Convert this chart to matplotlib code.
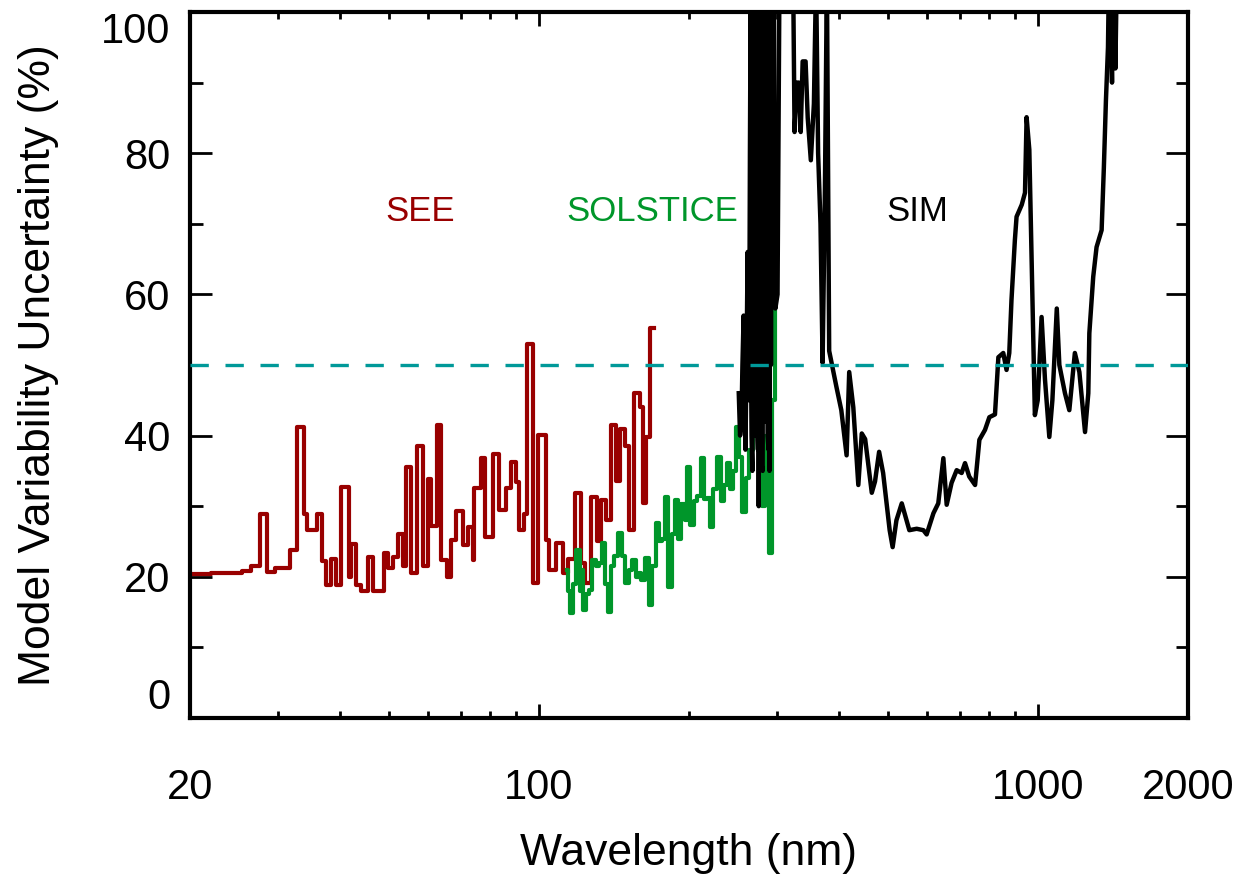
import numpy as np
import matplotlib.pyplot as plt
from matplotlib.ticker import FixedLocator, NullFormatter

plt.rcParams['font.family'] = ['Liberation Sans', 'DejaVu Sans']

# SEE (step bins: left edge wavelength in nm, uncertainty in %)
see_wl = [20.0, 22.0, 24.5, 25.4, 26.5, 27.6, 28.6, 29.6, 31.7, 32.7,
          33.8, 34.4, 35.9, 36.8, 37.5, 38.4, 39.3, 40.2, 41.7, 42.0,
          43.1, 44.0, 45.4, 46.5, 48.9, 49.9, 51.0, 52.2, 53.4, 54.2,
          55.4, 56.9, 58.6, 60.0, 60.9, 62.5, 63.7, 65.4, 66.6, 68.2,
          70.4, 72.0, 73.7, 74.3, 76.6, 78.0, 80.8, 83.3, 86.0, 87.9,
          89.9, 91.4, 93.4, 94.9, 97.2, 99.6, 103.5, 105.0, 108.5, 112.0,
          114.5, 118.1, 121.3, 124.0, 127.0, 131.0, 133.0, 136.3, 139.6, 143.0,
          145.4, 149.0, 151.5, 155.3, 159.2, 162.0, 164.0, 167.3, 170.0]
see_val = [20.4, 20.5, 20.6, 20.8, 21.5, 28.9, 20.7, 21.2, 23.8, 41.2,
           28.9, 26.6, 28.9, 22.2, 18.8, 22.5, 18.8, 32.7, 20.0, 24.6,
           18.8, 18.0, 22.8, 18.0, 23.4, 21.2, 22.8, 26.0, 21.5, 35.6,
           20.5, 38.5, 21.5, 33.9, 27.2, 41.5, 22.4, 20.0, 25.2, 29.3,
           24.5, 27.0, 22.4, 32.6, 36.8, 25.6, 37.4, 29.5, 32.6, 36.3,
           33.4, 26.6, 28.9, 53.0, 19.1, 40.1, 25.2, 21.0, 24.8, 20.5,
           22.5, 31.9, 22.0, 19.1, 31.3, 25.0, 30.9, 28.0, 41.5, 33.5,
           41.0, 38.5, 26.6, 46.0, 44.0, 30.4, 39.8, 55.2, 55.2]

# SOLSTICE
sol_wl = [113.9, 115.2, 116.0, 118.0, 120.0, 121.5, 122.5, 123.3, 125.2, 127.0,
          129.0, 131.0, 133.0, 135.0, 137.0, 138.5, 140.6, 143.0, 145.4, 147.8,
          150.3, 152.7, 155.3, 158.0, 159.2, 162.0, 164.6, 167.3, 170.0, 173.0,
          175.9, 177.4, 180.4, 183.5, 186.6, 188.2, 191.3, 194.5, 197.8, 199.4,
          202.7, 206.0, 209.5, 213.0, 216.6, 218.4, 222.0, 225.7, 229.5, 233.3,
          237.2, 239.3, 243.2, 247.2, 249.4, 253.6, 257.9, 262.0, 266.6, 271.0,
          275.6, 278.0, 282.4, 287.0, 292.0, 296.0, 298.0]
sol_val = [21.0, 18.0, 14.9, 19.0, 23.8, 18.0, 21.0, 15.3, 17.5, 18.1,
           22.4, 21.5, 22.0, 24.8, 19.0, 15.0, 21.5, 23.0, 26.2, 23.0,
           19.1, 21.0, 22.4, 20.0, 20.5, 19.5, 22.6, 16.0, 21.5, 27.6,
           25.0, 25.3, 31.3, 18.6, 26.0, 30.9, 25.3, 30.3, 28.0, 35.6,
           27.4, 30.8, 31.5, 36.8, 31.0, 31.2, 27.0, 32.5, 37.0, 30.8,
           33.0, 36.1, 32.5, 35.0, 41.2, 37.0, 29.2, 34.0, 38.0, 42.0,
           40.5, 47.0, 30.0, 40.0, 23.4, 45.0, 80.0]

# SIM
sim_wl = [251.7, 253.2, 254.8, 256.0, 257.4, 258.5, 259.6, 261.0, 262.2, 263.1,
          264.0, 265.0, 266.0, 266.5, 267.0, 268.0, 269.0, 269.5, 270.0, 271.0,
          272.0, 272.5, 273.0, 274.0, 275.0, 275.5, 276.0, 277.0, 278.0, 278.7,
          279.5, 281.0, 282.0, 282.5, 283.0, 284.0, 285.0, 285.6, 286.2, 287.5,
          288.8, 289.4, 290.0, 291.0, 292.0, 293.0, 294.0, 295.0, 296.0, 297.0,
          298.0, 301.0, 304.0, 307.0, 312.0, 316.5, 323.0, 325.6, 329.0, 332.0,
          335.0, 338.0, 342.6, 346.0, 351.0, 356.0, 359.6, 363.0, 367.0, 370.6,
          374.6, 378.0, 382.0, 387.0, 395.0, 404.0, 414.0, 419.0, 427.0, 437.0,
          444.0, 451.0, 465.0, 472.0, 481.0, 490.0, 505.0, 512.0, 521.0, 534.0,
          546.0, 553.0, 572.0, 590.0, 599.0, 618.0, 632.0, 647.0, 657.0, 672.0,
          688.0, 704.0, 715.0, 729.0, 749.0, 764.0, 784.0, 800.0, 821.0, 834.0,
          853.0, 866.0, 877.0, 886.0, 900.0, 907.0, 929.0, 943.0, 950.0, 962.0,
          972.0, 979.0, 987.0, 1000.0, 1018.0, 1034.0, 1055.0, 1070.0, 1092.0, 1105.0,
          1134.0, 1157.0, 1187.0, 1212.0, 1244.0, 1263.0, 1269.0, 1292.0, 1312.0, 1343.0,
          1357.0, 1370.0, 1383.0, 1392.0, 1409.0, 1418.0, 1431.0, 1444.0]
sim_val = [46.0, 40.0, 42.0, 50.0, 57.0, 44.0, 38.0, 52.0, 66.0, 48.0,
           45.0, 80.0, 105.0, 48.0, 40.0, 35.0, 110.0, 60.0, 110.0, 44.0,
           40.0, 110.0, 110.0, 42.0, 38.0, 110.0, 30.0, 110.0, 110.0, 40.0,
           36.0, 35.0, 110.0, 45.0, 110.0, 45.0, 42.0, 110.0, 110.0, 40.0,
           38.0, 110.0, 35.0, 110.0, 50.0, 110.0, 110.0, 60.0, 110.0, 62.0,
           58.0, 60.0, 110.0, 110.0, 110.0, 110.0, 110.0, 83.0, 90.0, 90.0,
           83.0, 93.0, 93.0, 85.0, 79.0, 87.0, 105.0, 80.0, 70.0, 50.3,
           75.0, 105.0, 52.0, 50.0, 46.9, 43.6, 37.2, 49.0, 44.0, 33.0,
           40.3, 39.5, 31.9, 33.5, 37.7, 34.7, 26.6, 24.2, 28.0, 30.4,
           28.0, 26.6, 26.8, 26.6, 26.0, 29.0, 30.4, 36.8, 30.2, 33.3,
           35.1, 34.7, 36.1, 34.2, 33.0, 39.4, 40.8, 42.6, 43.0, 51.1,
           51.7, 49.3, 51.7, 59.2, 67.7, 71.0, 72.7, 74.4, 85.1, 80.5,
           65.3, 54.5, 42.9, 45.0, 56.8, 48.0, 39.8, 45.0, 58.0, 50.0,
           46.0, 43.6, 51.7, 49.0, 40.5, 46.0, 54.5, 62.5, 66.7, 69.1,
           78.0, 87.5, 95.0, 110.0, 90.0, 110.0, 92.0, 110.0]

threshold = 50

see_color = '#990000'
sol_color = '#00962a'

fig = plt.figure(figsize=(12.4, 8.76), dpi=100)
ax = fig.add_axes([0.1532, 0.1804, 0.8048, 0.8059])

ax.plot(see_wl, see_val, color=see_color, lw=3.0, drawstyle='steps-post', zorder=2)
ax.plot(sol_wl, sol_val, color=sol_color, lw=3.0, drawstyle='steps-mid', zorder=3)
ax.plot(sim_wl, sim_val, color='black', lw=3.2, zorder=4)
ax.axhline(threshold, color='#009999', lw=2.4, linestyle=(0, (5.5, 5)), zorder=5)

ax.text(57.8, 71.7, 'SEE', color=see_color, fontsize=25, ha='center', va='center')
ax.text(169, 71.7, 'SOLSTICE', color=sol_color, fontsize=25, ha='center', va='center')
ax.text(574, 71.7, 'SIM', color='black', fontsize=25, ha='center', va='center')

ax.set_xscale('log')
ax.set_xlim(20, 2000)
ax.set_ylim(0, 100)

ax.xaxis.set_major_locator(FixedLocator([20, 100, 1000, 2000]))
ax.xaxis.set_minor_locator(FixedLocator([30, 40, 50, 60, 70, 80, 90,
                                         200, 300, 400, 500, 600, 700, 800, 900]))
ax.xaxis.set_minor_formatter(NullFormatter())
ax.set_xticklabels(['20', '100', '1000', '2000'])
ax.set_yticks([0, 20, 40, 60, 80, 100])
ax.set_yticks(np.arange(10, 100, 20), minor=True)

ax.tick_params(axis='x', which='major', direction='in', length=10, width=2,
               top=True, bottom=True, pad=36, labelsize=30)
ax.tick_params(axis='x', which='minor', direction='in', length=5, width=2,
               top=True, bottom=True)
ax.tick_params(axis='y', which='major', direction='in', length=16, width=2,
               left=True, right=True, pad=14, labelsize=30)
ax.tick_params(axis='y', which='minor', direction='in', length=9, width=2,
               left=True, right=True)
for sp in ax.spines.values():
    sp.set_linewidth(3)

ylabels = ax.get_yticklabels()
ylabels[0].set_verticalalignment('bottom')
ylabels[-1].set_verticalalignment('top')

ax.set_xlabel('Wavelength (nm)', fontsize=32, labelpad=18)
ax.set_ylabel('Model Variability Uncertainty (%)', fontsize=32, labelpad=30)

fig.savefig('out.png', dpi=100)
